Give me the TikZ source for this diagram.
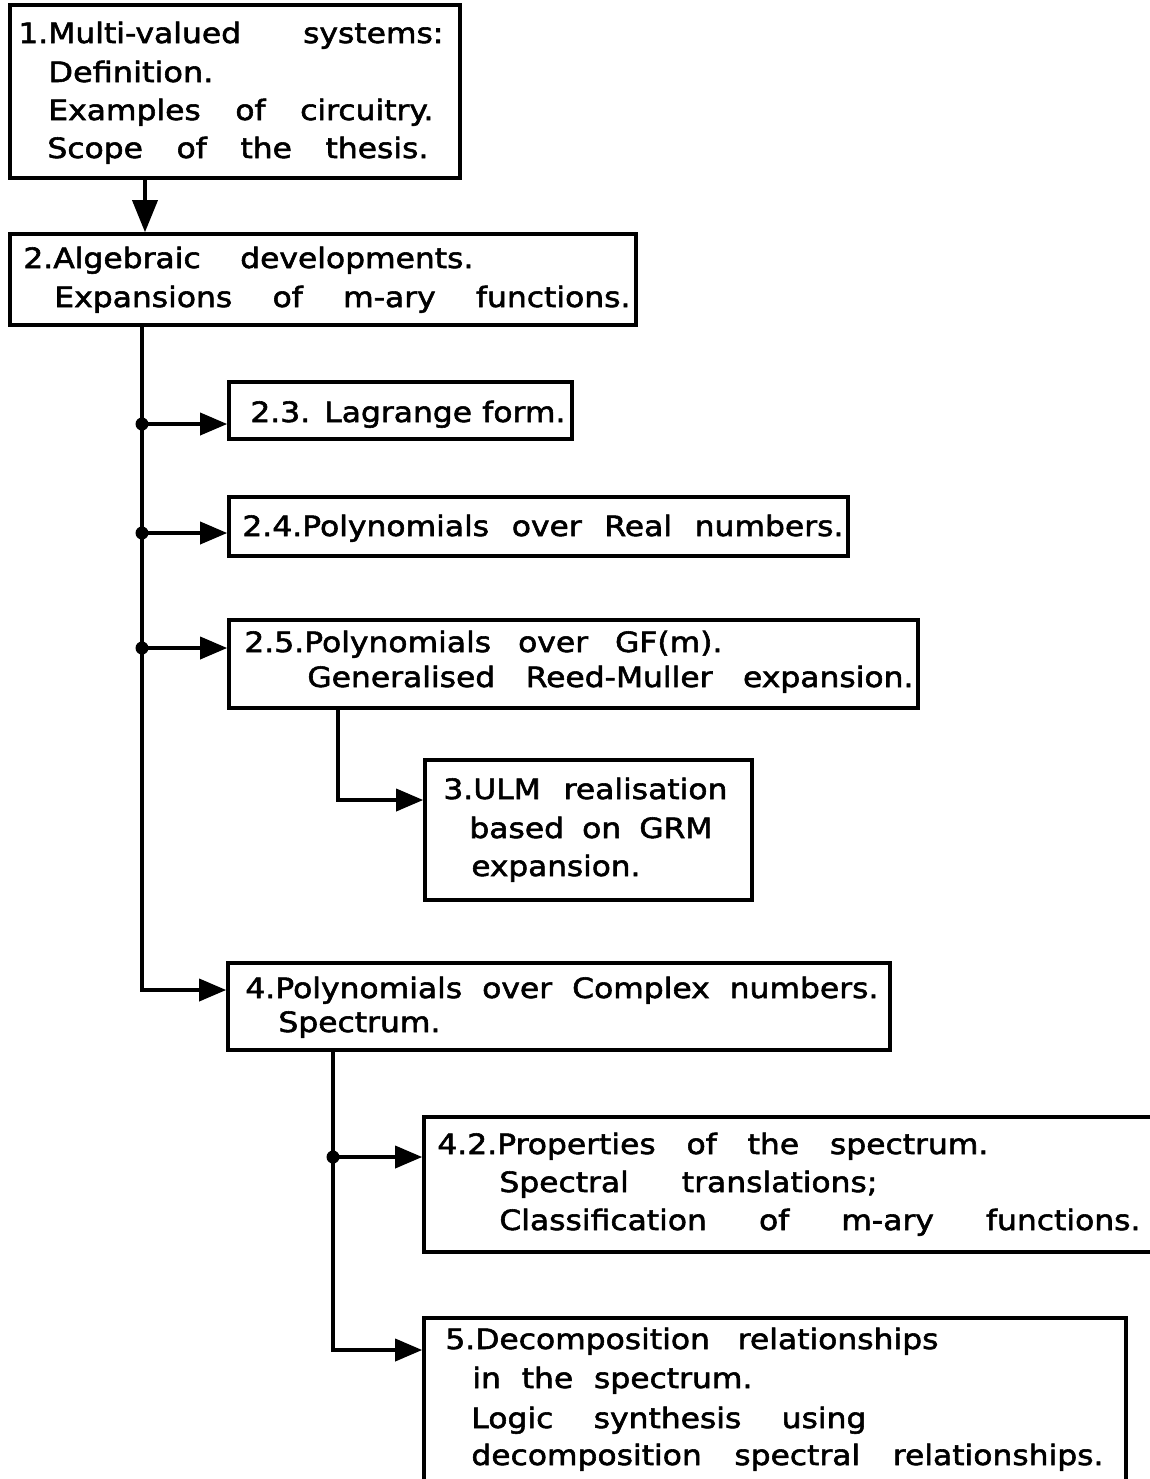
\documentclass[tikz,border=0pt]{standalone}
\usepackage{fontspec}
\setmainfont{DejaVu Sans}[FakeStretch=1.12,FakeBold=2]
\usetikzlibrary{arrows.meta,fit}
\newlength\natw
\newcommand\fl[2]{\settowidth\natw{#2}\ifdim\natw<#1\relax\makebox[#1][s]{#2}\else\resizebox{#1}{\height}{#2}\fi}
\newcommand\rl[2]{\resizebox{#1}{\height}{#2}}
\begin{document}
\begin{tikzpicture}[x=0.5pt,y=-0.5pt,
  box/.style={draw,line width=1.8pt,inner sep=0pt},
  txt/.style={anchor=base west,inner sep=0pt,font=\fontsize{14}{16}\selectfont},
  conn/.style={line width=1.8pt},
  tip/.style={-{Triangle[length=13.5pt,width=11pt]}},
  bigtip/.style={-{Triangle[length=16pt,width=12.5pt]}},
  dot/.style={circle,fill,inner sep=0pt,minimum size=6.5pt}]
\useasboundingbox (0,0) rectangle (1150,1479);
\fill[white] (0,0) rectangle (1150,1479);

% boxes
\node[box,fit={(10,5) (460,178)}] (b1) {};
\node[box,fit={(10,234) (636,325)}] (b2) {};
\node[box,fit={(229,382) (572,439)}] (b23) {};
\node[box,fit={(229,497) (848,556)}] (b24) {};
\node[box,fit={(229,620) (918,708)}] (b25) {};
\node[box,fit={(425,760) (752,900)}] (b3) {};
\node[box,fit={(228,963) (890,1050)}] (b4) {};
\node[box,fit={(424,1117) (1165,1252)}] (b42) {};
\node[box,fit={(424,1318) (1126,1500)}] (b5) {};

% texts
\node[txt] (t1a) at (18,43) {\fl{212.5pt}{1.Multi-valued systems:}};
\node[txt] (t1b) at (48,82) {\rl{82.5pt}{Definition.}};
\node[txt] (t1c) at (48,120) {\fl{192.5pt}{Examples of circuitry.}};
\node[txt] (t1d) at (47,158) {\fl{190.5pt}{Scope of the thesis.}};

\node[txt] (t2a) at (23,268) {\fl{225pt}{2.Algebraic developments.}};
\node[txt] (t2b) at (54,307) {\fl{288pt}{Expansions of m-ary functions.}};

\node[txt] (t23) at (250,422) {\fl{157.5pt}{2.3. Lagrange form.}};
\node[txt] (t24) at (242,536) {\fl{300.5pt}{2.4.Polynomials over Real numbers.}};

\node[txt] (t25a) at (244,652) {\fl{239pt}{2.5.Polynomials over GF(m).}};
\node[txt] (t25b) at (307,687) {\fl{303pt}{Generalised Reed-Muller expansion.}};

\node[txt] (t3a) at (443,799) {\fl{142pt}{3.ULM realisation}};
\node[txt] (t3b) at (469,838) {\fl{121.5pt}{based on GRM}};
\node[txt] (t3c) at (471,876) {\rl{84.5pt}{expansion.}};

\node[txt] (t4a) at (245,998) {\fl{316.5pt}{4.Polynomials over Complex numbers.}};
\node[txt] (t4b) at (278,1032) {\rl{81pt}{Spectrum.}};

\node[txt] (t42a) at (437,1154) {\fl{275.5pt}{4.2.Properties of the spectrum.}};
\node[txt] (t42b) at (499,1192) {\fl{189pt}{Spectral translations;}};
\node[txt] (t42c) at (499,1230) {\fl{320.5pt}{Classification of m-ary functions.}};

\node[txt] (t5a) at (445,1349) {\fl{246.5pt}{5.Decomposition relationships}};
\node[txt] (t5b) at (472,1388) {\fl{140pt}{in the spectrum.}};
\node[txt] (t5c) at (471,1428) {\fl{197.5pt}{Logic synthesis using}};
\node[txt] (t5d) at (471,1465) {\fl{316pt}{decomposition spectral relationships.}};

% connector coordinates
\coordinate (a12) at (145,0);
\coordinate (j23) at (142,424);
\coordinate (j24) at (142,533);
\coordinate (j25) at (142,648);
\coordinate (k4) at (142,990);
\coordinate (k3) at (338,800);
\coordinate (j42) at (333,1157);
\coordinate (k5) at (333,1350);

% connectors
\draw[conn,bigtip] (b1.south -| a12) -- (b2.north -| a12);
\draw[conn,tip] (b2.south -| k4) -- (k4) -- (b4.west |- k4);
\draw[conn,tip] (j23) -- (b23.west |- j23);
\draw[conn,tip] (j24) -- (b24.west |- j24);
\draw[conn,tip] (j25) -- (b25.west |- j25);
\draw[conn,tip] (b25.south -| k3) -- (k3) -- (b3.west |- k3);
\draw[conn,tip] (b4.south -| k5) -- (k5) -- (b5.west |- k5);
\draw[conn,tip] (j42) -- (b42.west |- j42);

\node[dot] (d23) at (j23) {};
\node[dot] (d24) at (j24) {};
\node[dot] (d25) at (j25) {};
\node[dot] (d42) at (j42) {};
\end{tikzpicture}
\end{document}
